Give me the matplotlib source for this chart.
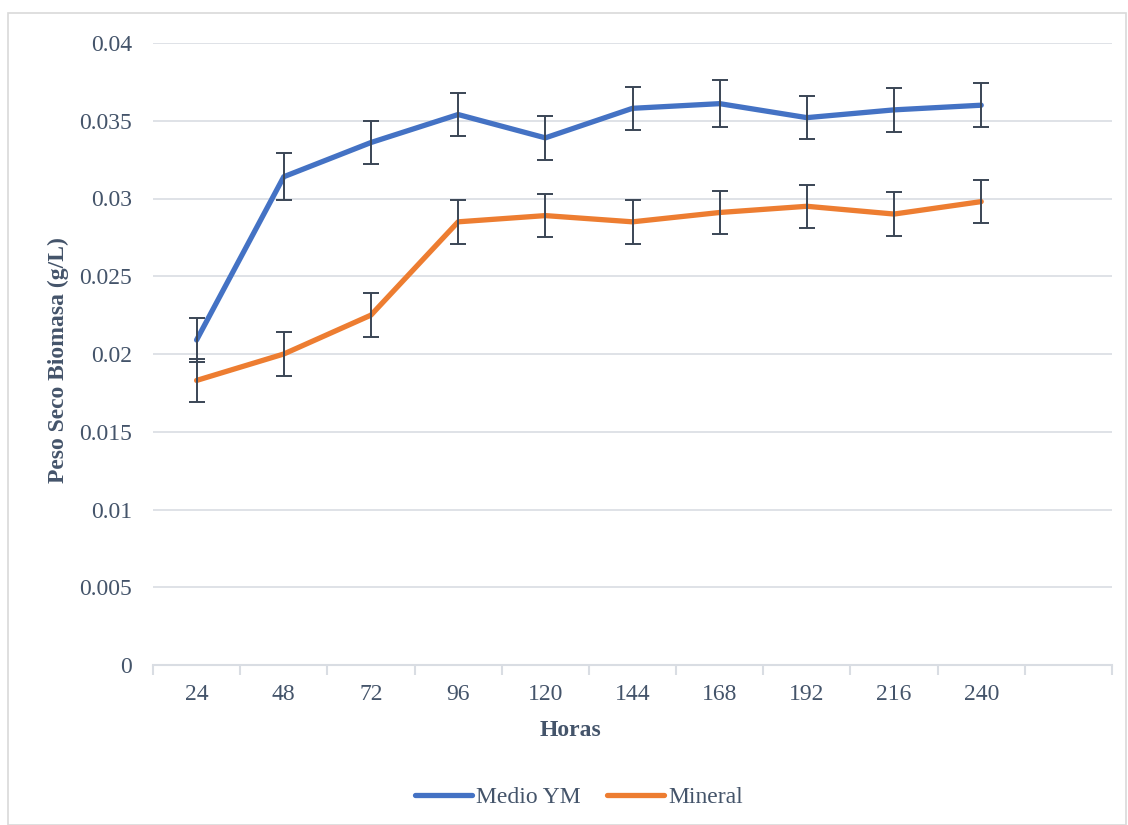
import matplotlib
matplotlib.use("Agg")
import matplotlib.pyplot as plt
from matplotlib.ticker import FuncFormatter, FixedLocator
import numpy as np

plt.rcParams['font.family'] = ['Liberation Serif', 'DejaVu Serif']

horas = ['24', '48', '72', '96', '120', '144', '168', '192', '216', '240']
medio_ym = [0.0209, 0.0314, 0.0336, 0.0354, 0.0339, 0.0358, 0.0361, 0.0352, 0.0357, 0.0360]
mineral = [0.0183, 0.0200, 0.0225, 0.0285, 0.0289, 0.0285, 0.0291, 0.0295, 0.0290, 0.0298]
err_ym = [0.0014, 0.0015, 0.0014, 0.0014, 0.0014, 0.0014, 0.0015, 0.0014, 0.0014, 0.0014]
err_min = [0.0014, 0.0014, 0.0014, 0.0014, 0.0014, 0.0014, 0.0014, 0.0014, 0.0014, 0.0014]

txt = '#44546a'
grid = '#d9dde3'
bar_col = '#3a4555'

fig = plt.figure(figsize=(11.28, 8.25), dpi=100)
ax = fig.add_axes([153/1128, 1-665/825, (1112-153)/1128, (665-43)/825])

# frame around the whole chart
fig.patches.append(plt.Rectangle((8/1128, 0), 1118/1128, 1-13/825, transform=fig.transFigure,
                                 fill=False, edgecolor='#d9d9d9', lw=1.2))

x = np.arange(len(horas))
ax.plot(x, medio_ym, color='#4472c4', lw=3.8, solid_capstyle='round', label='Medio YM', zorder=3)
ax.plot(x, mineral, color='#ed7d31', lw=3.8, solid_capstyle='round', label='Mineral', zorder=3)
ax.errorbar(x, medio_ym, yerr=err_ym, fmt='none', ecolor=bar_col, elinewidth=1.4, capsize=6, capthick=1.4, zorder=4)
ax.errorbar(x, mineral, yerr=err_min, fmt='none', ecolor=bar_col, elinewidth=1.4, capsize=6, capthick=1.4, zorder=4)

ax.set_xlim(-0.5, 10.5)
ax.set_ylim(0, 0.04)
ax.set_yticks(np.arange(0, 0.0401, 0.005))
ax.yaxis.set_major_formatter(FuncFormatter(lambda v, p: '%g' % round(v, 4)))
ax.set_xticks(x)
ax.set_xticklabels(horas)
ax.xaxis.set_minor_locator(FixedLocator(np.arange(-0.5, 11, 1)))
ax.tick_params(axis='x', which='major', length=0, pad=14)
ax.tick_params(axis='x', which='minor', length=7, color=grid, width=1.5)
ax.tick_params(axis='y', length=0, pad=15)
ax.tick_params(labelsize=17, labelcolor=txt)

ax.grid(axis='y', color=grid, lw=1.2)
ax.set_axisbelow(True)
for s in ['top', 'right', 'left']:
    ax.spines[s].set_visible(False)
ax.spines['bottom'].set_color(grid)
ax.spines['bottom'].set_linewidth(1.5)

ax.set_xlabel('Horas', fontsize=17, fontweight='bold', color=txt)
ax.xaxis.set_label_coords(0.435, -0.088)
ax.set_ylabel('Peso Seco Biomasa (g/L)', fontsize=17, fontweight='bold', color=txt)
ax.yaxis.set_label_coords(-0.088, 0.49)

leg = fig.legend(loc='center', bbox_to_anchor=(579/1128, 1-797/825), ncol=2, frameon=False,
                 fontsize=17, handlelength=2.4, columnspacing=1.1, handletextpad=0.2)
for t in leg.get_texts():
    t.set_color(txt)

fig.savefig('out.png', dpi=100)
